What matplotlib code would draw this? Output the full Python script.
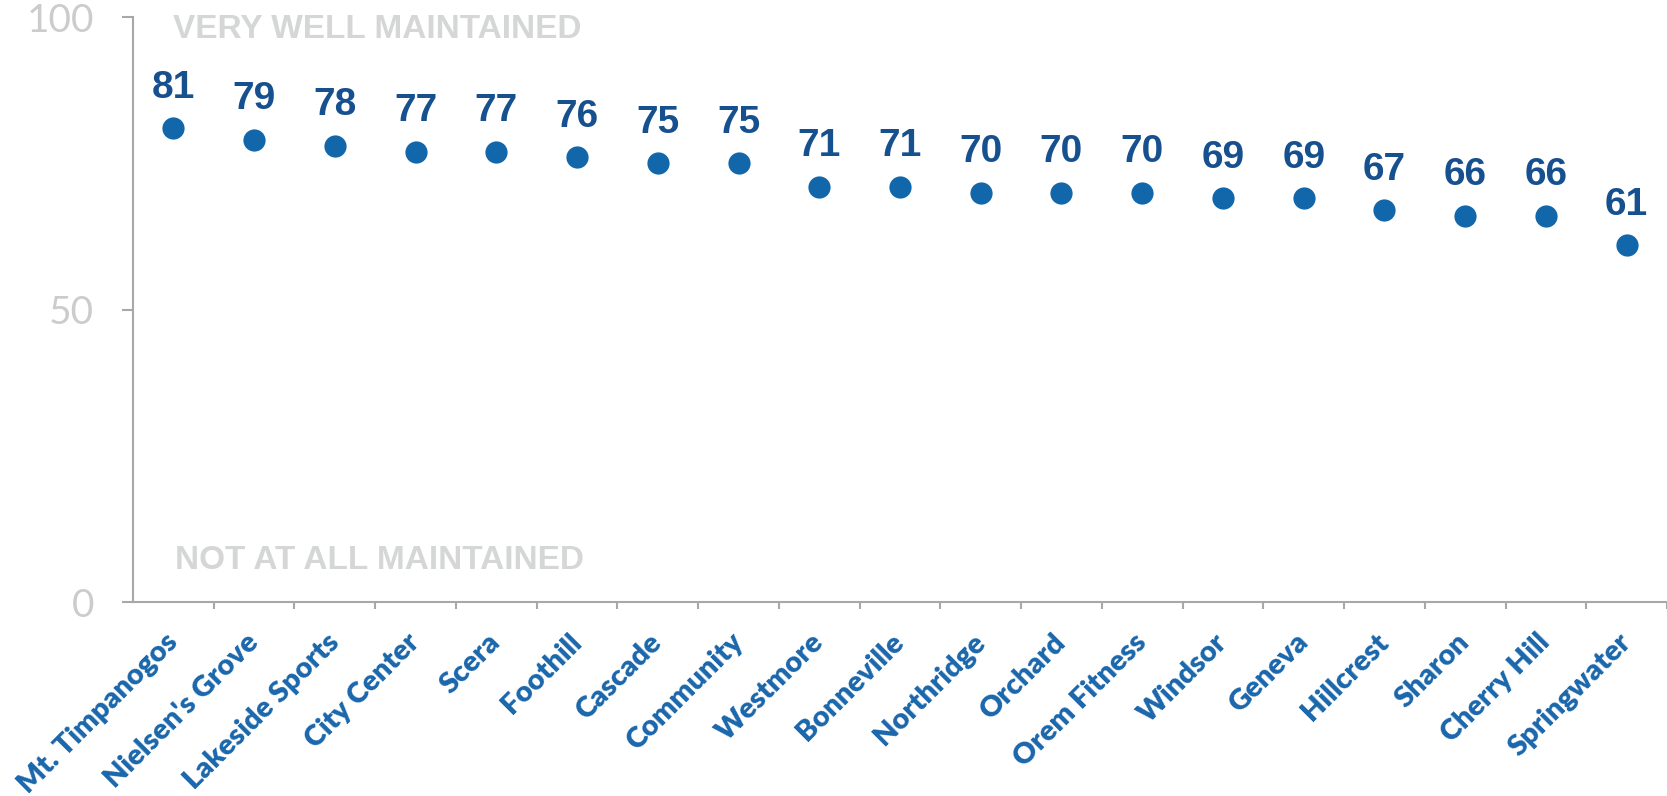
import matplotlib
matplotlib.use("Agg")
import matplotlib.pyplot as plt
from matplotlib import font_manager

parks = ["Mt. Timpanogos", "Nielsen's Grove", "Lakeside Sports", "City Center", "Scera",
         "Foothill", "Cascade", "Community", "Westmore", "Bonneville", "Northridge",
         "Orchard", "Orem Fitness", "Windsor", "Geneva", "Hillcrest", "Sharon",
         "Cherry Hill", "Springwater"]
scores = [81, 79, 78, 77, 77, 76, 75, 75, 71, 71, 70, 70, 70, 69, 69, 67, 66, 66, 61]
y_ticks = [0, 50, 100]
top_note = "VERY WELL MAINTAINED"
bottom_note = "NOT AT ALL MAINTAINED"

DOT = "#1167aa"
NUM = "#17508f"
LAB = "#1a66ab"
GREY = "#d5d6d6"
AXIS = "#a8a8a8"


def pick(names):
    have = {f.name for f in font_manager.fontManager.ttflist}
    for n in names:
        if n in have:
            return n
    return "DejaVu Sans"


narrow = pick(["Liberation Sans Narrow", "DejaVu Sans Condensed", "Liberation Sans"])
geo = pick(["Lato", "Open Sans", "DejaVu Sans"])

fig = plt.figure(figsize=(16.67, 7.96), dpi=100)
ax = fig.add_axes([0.0798, 0.2437, 0.9202, 0.7349])

x = list(range(len(parks)))
ax.plot(x, scores, "o", color=DOT, markersize=16, markeredgewidth=0, clip_on=False)

for xi, v in zip(x, scores):
    ax.annotate(str(v), (xi, v), xytext=(0, 22), textcoords="offset points",
                ha="center", va="baseline", fontsize=28, fontweight="bold",
                family=narrow, color=NUM)

ax.text(-0.01, 100.6, top_note, ha="left", va="top", fontsize=24, fontweight="bold",
        family=narrow, color=GREY, clip_on=False)
ax.text(0.02, 5.6, bottom_note, ha="left", va="baseline", fontsize=24, fontweight="bold",
        family=narrow, color=GREY)

ax.set_xlim(-0.5, len(parks) - 0.5)
ax.set_ylim(0, 100)

ax.set_yticks(y_ticks)
ax.set_yticklabels([str(t) for t in y_ticks], fontsize=28, family=geo,
                   color="#cccccc")
ax.tick_params(axis="y", length=8, width=1.5, color=AXIS, pad=20)

ax.set_xticks(x)
ax.set_xticklabels(parks, rotation=45, ha="right", va="center",
                   rotation_mode="anchor", fontsize=21, fontweight="heavy",
                   family=geo, color=LAB)
ax.tick_params(axis="x", which="major", length=0, pad=26)
ax.set_xticks([i + 0.5 for i in x], minor=True)
ax.tick_params(axis="x", which="minor", length=5, width=1.5, color=AXIS)

for s in ["top", "right"]:
    ax.spines[s].set_visible(False)
for s in ["left", "bottom"]:
    ax.spines[s].set_color(AXIS)
    ax.spines[s].set_linewidth(1.5)

fig.savefig("out.png", dpi=100)
